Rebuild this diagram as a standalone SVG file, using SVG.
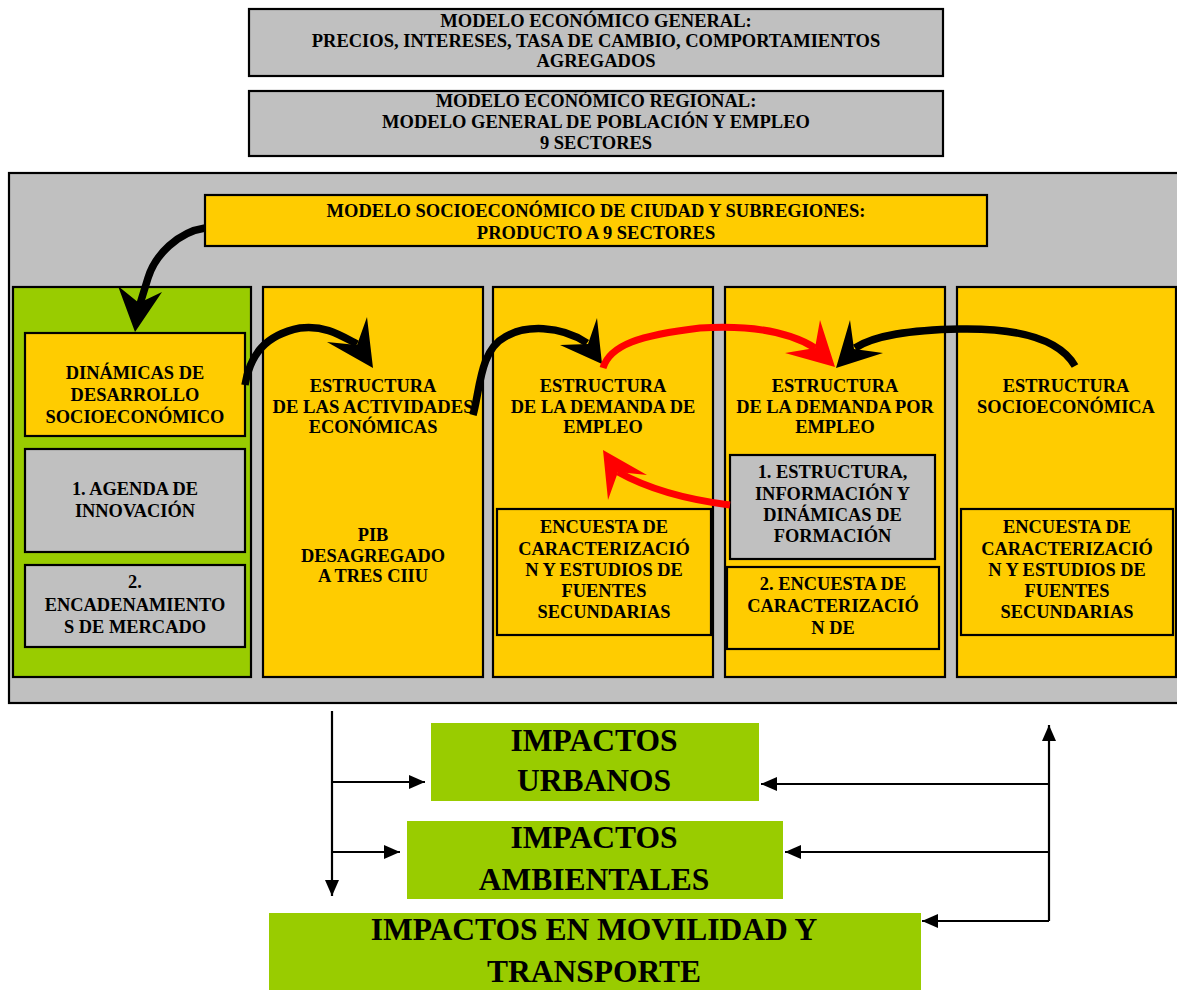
<svg xmlns="http://www.w3.org/2000/svg" width="1177" height="991" viewBox="0 0 1177 991">
<defs>
<style>
.g{fill:#C0C0C0;stroke:#000;stroke-width:2.2}
.y{fill:#FFCC00;stroke:#000;stroke-width:2.2}
.gr{fill:#99CC00;stroke:#000;stroke-width:2.2}
.gb{fill:#99CC00;stroke:none}
text{font-family:"Liberation Serif","Times New Roman",serif;font-weight:bold;fill:#000;text-anchor:middle}
.t{font-size:18.5px}
.m{font-size:18.4px}
.b{font-size:31.5px}
.bk{fill:none;stroke:#000;stroke-width:7.5}
.rd{fill:none;stroke:#FF0000;stroke-width:7}
.bkh{fill:#000}
.rdh{fill:#FF0000}
.ln{fill:none;stroke:#000;stroke-width:2.2;marker-end:url(#ah)}
</style>
<marker id="ah" viewBox="0 0 16 14" refX="16" refY="7" markerWidth="16" markerHeight="14" orient="auto" markerUnits="userSpaceOnUse">
<path d="M0,0 L16,7 L0,14 z" fill="#000"/>
</marker>
</defs>
<rect width="1177" height="991" fill="#fff"/>

<g id="modelo-general">
<rect class="g" x="249" y="9" width="694" height="67"/>
<text class="t" x="596" y="27">MODELO ECONÓMICO GENERAL:</text>
<text class="t" x="596" y="47">PRECIOS, INTERESES, TASA DE CAMBIO, COMPORTAMIENTOS</text>
<text class="t" x="596" y="67">AGREGADOS</text>
</g>

<g id="modelo-regional">
<rect class="g" x="249" y="91" width="694" height="65"/>
<text class="t" x="596" y="107">MODELO ECONÓMICO REGIONAL:</text>
<text class="t" x="596" y="128">MODELO GENERAL DE POBLACIÓN Y EMPLEO</text>
<text class="t" x="596" y="149">9 SECTORES</text>
</g>

<g id="panel">
<rect class="g" x="9" y="173" width="1180" height="530"/>
</g>

<g id="modelo-ciudad">
<rect class="y" x="205" y="195" width="782" height="51"/>
<text class="t" x="596" y="217">MODELO SOCIOECONÓMICO DE CIUDAD Y SUBREGIONES:</text>
<text class="t" x="596" y="239">PRODUCTO A 9 SECTORES</text>
</g>

<g id="col-dinamicas">
<rect class="gr" x="13" y="287" width="238" height="390"/>
<rect class="y" x="25" y="333" width="220" height="103"/>
<text class="m" x="135" y="379">DINÁMICAS DE</text>
<text class="m" x="135" y="401">DESARROLLO</text>
<text class="m" x="135" y="422.5">SOCIOECONÓMICO</text>
<rect class="g" x="25" y="449" width="220" height="103"/>
<text class="m" x="135" y="495">1. AGENDA DE</text>
<text class="m" x="135" y="517">INNOVACIÓN</text>
<rect class="g" x="25" y="565" width="220" height="82"/>
<text class="m" x="135" y="588">2.</text>
<text class="m" x="135" y="610.5">ENCADENAMIENTO</text>
<text class="m" x="135" y="632.5">S DE MERCADO</text>
</g>

<g id="col-actividades">
<rect class="y" x="263" y="287" width="220" height="390"/>
<text class="m" x="373" y="392">ESTRUCTURA</text>
<text class="m" x="373" y="412.5" textLength="201" lengthAdjust="spacingAndGlyphs">DE LAS ACTIVIDADES</text>
<text class="m" x="373" y="433">ECONÓMICAS</text>
<text class="m" x="373" y="541">PIB</text>
<text class="m" x="373" y="561.5">DESAGREGADO</text>
<text class="m" x="373" y="582">A TRES CIIU</text>
</g>

<g id="col-demanda-de-empleo">
<rect class="y" x="493" y="287" width="220" height="390"/>
<text class="m" x="603" y="392">ESTRUCTURA</text>
<text class="m" x="603" y="412.5">DE LA DEMANDA DE</text>
<text class="m" x="603" y="433">EMPLEO</text>
<rect class="y" x="497" y="509" width="214" height="126"/>
<text class="m" x="604" y="533">ENCUESTA DE</text>
<text class="m" x="604" y="554.5">CARACTERIZACIÓ</text>
<text class="m" x="604" y="575.5">N Y ESTUDIOS DE</text>
<text class="m" x="604" y="597">FUENTES</text>
<text class="m" x="604" y="618">SECUNDARIAS</text>
</g>

<g id="col-demanda-por-empleo">
<rect class="y" x="725" y="287" width="220" height="390"/>
<text class="m" x="835" y="392">ESTRUCTURA</text>
<text class="m" x="835" y="412.5">DE LA DEMANDA POR</text>
<text class="m" x="835" y="433">EMPLEO</text>
<rect class="g" x="730" y="455" width="205" height="104"/>
<text class="m" x="832.5" y="478">1. ESTRUCTURA,</text>
<text class="m" x="832.5" y="499.5">INFORMACIÓN Y</text>
<text class="m" x="832.5" y="521">DINÁMICAS DE</text>
<text class="m" x="832.5" y="542">FORMACIÓN</text>
<rect class="y" x="727" y="567" width="212" height="82"/>
<text class="m" x="833" y="590">2. ENCUESTA DE</text>
<text class="m" x="833" y="612">CARACTERIZACIÓ</text>
<text class="m" x="833" y="634">N DE</text>
</g>

<g id="col-socioeconomica">
<rect class="y" x="957" y="287" width="219" height="390"/>
<text class="m" x="1066" y="392">ESTRUCTURA</text>
<text class="m" x="1066" y="412.5">SOCIOECONÓMICA</text>
<rect class="y" x="961" y="509" width="212" height="126"/>
<text class="m" x="1067" y="533">ENCUESTA DE</text>
<text class="m" x="1067" y="554.5">CARACTERIZACIÓ</text>
<text class="m" x="1067" y="575.5">N Y ESTUDIOS DE</text>
<text class="m" x="1067" y="597">FUENTES</text>
<text class="m" x="1067" y="618">SECUNDARIAS</text>
</g>

<g id="impactos-urbanos">
<rect class="gb" x="431" y="723" width="328" height="78"/>
<text class="b" x="594" y="751">IMPACTOS</text>
<text class="b" x="594" y="791">URBANOS</text>
</g>

<g id="impactos-ambientales">
<rect class="gb" x="407" y="821" width="376" height="78"/>
<text class="b" x="594" y="848">IMPACTOS</text>
<text class="b" x="594" y="890">AMBIENTALES</text>
</g>

<g id="impactos-movilidad">
<rect class="gb" x="269" y="913" width="652" height="77"/>
<text class="b" x="594" y="940">IMPACTOS EN MOVILIDAD Y</text>
<text class="b" x="594" y="982">TRANSPORTE</text>
</g>

<g id="connectors">
<path class="bk" d="M205,228 C178,232 155,255 148,278 L140,304"/>
<polygon class="bkh" points="135,332 118,286 139,303 162,292"/>
<path class="bk" d="M245,385 C250,355 265,335 300,328 C325,325 340,335 357,344"/>
<polygon class="bkh" points="373,368 327,342 357,345 367,317"/>
<path class="bk" d="M473,415 C480,390 480,350 505,337 C525,325 560,325 587,343"/>
<polygon class="bkh" points="602,364 560,345 588,344 597,318"/>
<path class="rd" d="M603,368 C610,345 640,335 700,328 C750,325 790,332 815,348"/>
<polygon class="rdh" points="835,367 785,353 815,348 820,320"/>
<path class="bk" d="M1075,366 C1060,340 1020,328 960,329 C910,330 875,335 855,348"/>
<polygon class="bkh" points="836,368 850,320 854,349 883,353"/>
<path class="rd" d="M730,505 C690,500 650,490 618,472"/>
<polygon class="rdh" points="603,450 608,500 618,472 647,475"/>
<path class="ln" d="M332,711 V896"/>
<path class="ln" d="M332,782 H425"/>
<path class="ln" d="M332,852 H400"/>
<path class="ln" d="M1049,921 V725"/>
<path class="ln" d="M1049,784 H761"/>
<path class="ln" d="M1049,852 H785"/>
<path class="ln" d="M1049,921 H922"/>
</g>
</svg>
